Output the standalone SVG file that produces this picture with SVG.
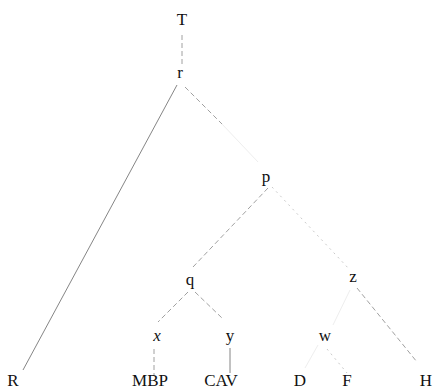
<svg xmlns="http://www.w3.org/2000/svg" width="435" height="391" viewBox="0 0 435 391">
<style>
text{font-family:"Liberation Serif","DejaVu Serif",serif;font-size:17px;fill:#111;text-anchor:middle}
.it{font-style:italic}
.e{stroke:#777;stroke-width:0.9;fill:none}
.d{stroke:#888;stroke-width:0.8;fill:none;stroke-dasharray:5 3}
.f{stroke:#bbb;stroke-width:0.8;fill:none;stroke-dasharray:2 4}
.g{stroke:#eee;stroke-width:1;fill:none}
</style>
<rect width="435" height="391" fill="#fff"/>
<g id="connectors">
<line class="d" x1="182" y1="35" x2="182" y2="65"/>
<line class="e" x1="177" y1="85" x2="23" y2="370"/>
<line class="d" x1="185" y1="87" x2="222" y2="124"/>
<line class="g" x1="222" y1="124" x2="258" y2="162"/>
<line class="d" x1="268" y1="188" x2="193" y2="267"/>
<line class="f" x1="272" y1="187" x2="350" y2="270"/>
<line class="d" x1="188" y1="292" x2="158" y2="322"/>
<line class="d" x1="195" y1="292" x2="222" y2="318"/>
<line class="d" x1="154" y1="349" x2="154" y2="375"/>
<line class="e" x1="230" y1="348" x2="230" y2="373"/>
<line class="g" x1="350" y1="290" x2="333" y2="325"/>
<line class="g" x1="318" y1="345" x2="305" y2="368"/>
<line class="f" x1="327" y1="349" x2="347" y2="373"/>
<line class="d" x1="357" y1="288" x2="417" y2="362"/>
</g>
<g id="T"><text x="182" y="25">T</text></g>
<g id="r"><text x="180" y="78">r</text></g>
<g id="p"><text x="266" y="182">p</text></g>
<g id="q"><text x="190" y="285">q</text></g>
<g id="x"><text class="it" x="157" y="341">x</text></g>
<g id="y"><text x="230" y="341">y</text></g>
<g id="z"><text x="353" y="282">z</text></g>
<g id="w"><text x="325" y="341">w</text></g>
<g id="R"><text x="13" y="386">R</text></g>
<g id="MBP"><text x="150" y="386">MBP</text></g>
<g id="CAV"><text x="221" y="386">CAV</text></g>
<g id="D"><text x="300" y="386">D</text></g>
<g id="F"><text x="347" y="386">F</text></g>
<g id="H"><text x="426" y="386">H</text></g>
</svg>
